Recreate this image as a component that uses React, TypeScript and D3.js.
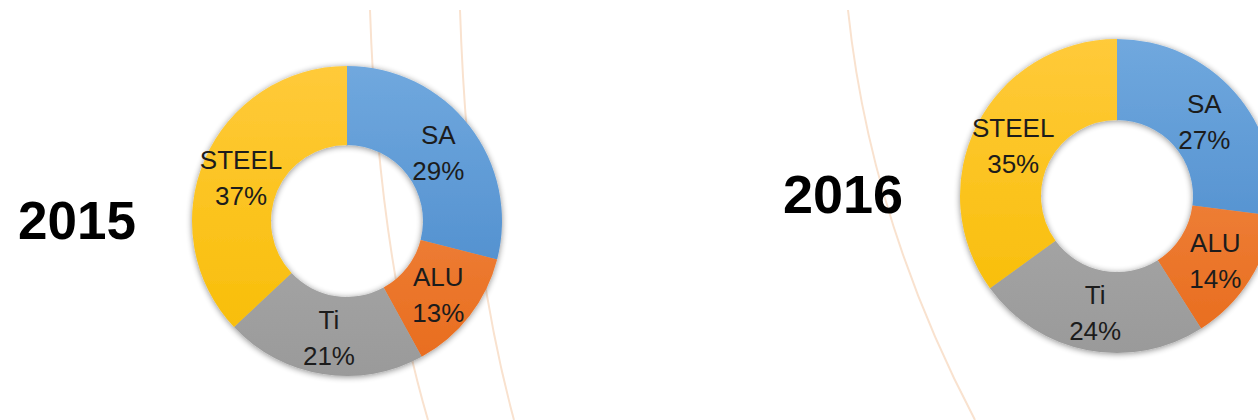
import React from "react";
import * as d3 from "d3";

const categories = ["SA", "ALU", "Ti", "STEEL"];
const values2015 = [29, 13, 21, 37];
const values2016 = [27, 14, 24, 35];
const years = ["2015", "2016"];

const colors: Record<string, [string, string]> = {
  SA: ["#70a8de", "#4485c8"],
  ALU: ["#f39150", "#e86b1c"],
  Ti: ["#b3b3b3", "#9a9a9a"],
  STEEL: ["#ffca3a", "#f7bc00"],
};

const W = 1258;
const H = 420;

function Donut({ id, cx, cy, r0, r1, values }: { id: string; cx: number; cy: number; r0: number; r1: number; values: number[] }) {
  const pie = d3.pie<number>().sort(null).value((d) => d);
  const arcs = pie(values);
  const arc = d3.arc<d3.PieArcDatum<number>>().innerRadius(r0).outerRadius(r1);
  return (
    <g transform={`translate(${cx},${cy})`}>
      <defs>
        {categories.map((c) => (
          <linearGradient key={c} id={`${id}-${c}`} x1="0" y1={-r1} x2="0" y2={r1} gradientUnits="userSpaceOnUse">
            <stop offset="0" stopColor={colors[c][0]} />
            <stop offset="1" stopColor={colors[c][1]} />
          </linearGradient>
        ))}
      </defs>
      <g filter="url(#shadow)">
        {arcs.map((a, i) => (
          <path key={i} d={arc(a) || ""} fill={`url(#${id}-${categories[i]})`} />
        ))}
      </g>
      {arcs.map((a, i) => {
        const [x, y] = arc.centroid(a);
        return (
          <text key={i} x={x} y={y} textAnchor="middle" fontFamily="'Liberation Sans', Arial, sans-serif" fontSize={26} fill="#1c1c1c">
            <tspan x={x} dy={-6}>{categories[i]}</tspan>
            <tspan x={x} dy={36}>{`${values[i]}%`}</tspan>
          </text>
        );
      })}
    </g>
  );
}

export default function App() {
  return (
    <svg width={W} height={H} style={{ position: "absolute", left: 0, top: 0, background: "#fff" }}>
      <defs>
        <filter id="shadow" x="-20%" y="-20%" width="140%" height="140%">
          <feGaussianBlur in="SourceAlpha" stdDeviation="3" />
          <feOffset dx="0" dy="1" result="b" />
          <feComponentTransfer><feFuncA type="linear" slope="0.45" /></feComponentTransfer>
          <feMerge>
            <feMergeNode />
            <feMergeNode in="SourceGraphic" />
          </feMerge>
        </filter>
      </defs>
      <g fill="none" stroke="#f9e2cf" strokeWidth={2}>
        <path d="M370,10 Q378,250 428,420" />
        <path d="M460,10 Q468,250 514,420" />
        <path d="M848,10 Q870,220 975,420" />
      </g>
      <Donut id="d15" cx={347} cy={221} r0={76} r1={155} values={values2015} />
      <Donut id="d16" cx={1117} cy={196} r0={76} r1={157} values={values2016} />
      <text x={18} y={239} fontFamily="'Liberation Sans', Arial, sans-serif" fontWeight="bold" fontSize={53} fill="#000">{years[0]}</text>
      <text x={783} y={213} fontFamily="'Liberation Sans', Arial, sans-serif" fontWeight="bold" fontSize={54} fill="#000">{years[1]}</text>
    </svg>
  );
}
